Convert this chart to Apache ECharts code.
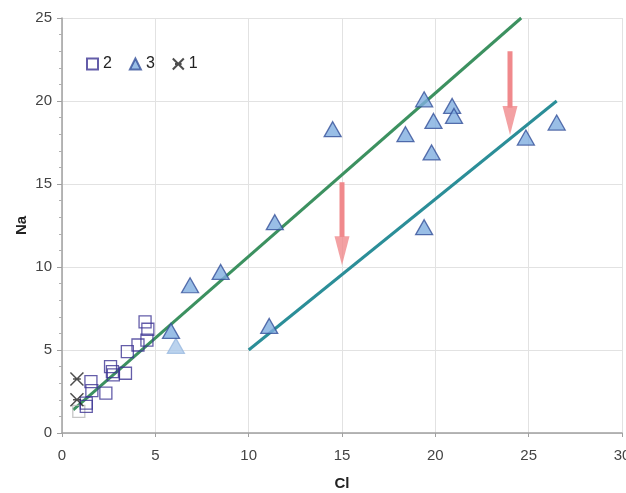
<!DOCTYPE html>
<html><head><meta charset="utf-8">
<script src="https://cdn.jsdelivr.net/npm/echarts@6/dist/echarts.min.js"></script>
<style>html,body{margin:0;padding:0;background:#fff}#c{width:626px;height:493px}</style>
</head><body><div id="c"></div>
<script>
// Series "2" (open squares): [Cl, Na]
const squares2 = [[4.45,6.7],[4.6,6.25],[4.55,5.6],[4.07,5.3],[3.5,4.9],[2.6,4.0],[2.7,3.7],[2.75,3.5],[3.4,3.6],[1.55,3.1],[1.6,2.55],[2.35,2.4],[1.3,1.8],[1.3,1.6]];
const faintSquare = [[0.9,1.3]];
// Series "3" (triangles)
const triangles3 = [[5.84,6.15],[6.86,8.9],[8.5,9.7],[11.4,12.7],[11.1,6.45],[14.5,18.3],[18.4,18.0],[19.4,20.1],[19.9,18.8],[19.8,16.9],[19.4,12.4],[20.9,19.7],[21.0,19.1],[24.85,17.8],[26.5,18.7]];
const faintTriangle = [[6.1,5.25]];
// Series "1" (stars)
const stars1 = [[0.8,3.25],[0.8,2.0]];
// Trend lines
const greenLine = [[0.6,1.4],[24.6,25]];
const tealLine = [[10,5],[26.5,20]];
// Arrows: x, top, head base, tip
const arrowX = [15, 24];
const arrowTop = [15.1, 23];
const arrowHeadBase = [11.8, 19.6];
const arrowTip = [10.1, 17.95];
// Axis ticks
const xTicks = [0,5,10,15,20,25,30];
const yTicks = [0,5,10,15,20,25];

const starPath = 'path://M0,0L10,10M10,0L0,10M2,5L8,5';
const headPath = 'path://M0,0L10,0L5,20Z';
const arrowColor = '#f0898c';
const font = 'Liberation Sans, Arial, sans-serif';

const series = [];
series.push({name:'2', type:'scatter', data:squares2, symbol:'rect', symbolSize:12, z:5,
  itemStyle:{color:'rgba(255,255,255,0)', borderColor:'#3d3494', borderWidth:1.3}});
series.push({name:'faint', type:'scatter', data:faintSquare, symbol:'rect', symbolSize:12, z:4,
  itemStyle:{color:'rgba(255,255,255,0)', borderColor:'#b8b8b8', borderWidth:1.3}});
series.push({name:'3', type:'scatter', data:triangles3, symbol:'triangle', symbolSize:[17,15], z:5,
  itemStyle:{color:'#80aee0', borderColor:'#34509a', borderWidth:1.3}});
series.push({name:'faint3', type:'scatter', data:faintTriangle, symbol:'triangle', symbolSize:[17,15], z:4,
  itemStyle:{color:'#aac8ea', borderColor:'#9ab9e0', borderWidth:1.3}});
series.push({name:'1', type:'scatter', data:stars1, symbol:starPath, symbolSize:13, z:6,
  itemStyle:{color:'rgba(0,0,0,0)', borderColor:'#222', borderWidth:1.5}});
series.push({name:'g', type:'line', data:greenLine, showSymbol:false, symbol:'none', z:3,
  lineStyle:{color:'#3c9160', width:3}});
series.push({name:'t', type:'line', data:tealLine, showSymbol:false, symbol:'none', z:3,
  lineStyle:{color:'#2b8e98', width:3}});
for (let i = 0; i < arrowX.length; i++) {
  series.push({name:'shaft'+i, type:'line', data:[[arrowX[i],arrowTop[i]],[arrowX[i],arrowHeadBase[i]]],
    showSymbol:false, symbol:'none', z:7, lineStyle:{color:arrowColor, width:5, cap:'butt'}});
  series.push({name:'head'+i, type:'scatter', data:[[arrowX[i],arrowTip[i]]], symbol:headPath,
    symbolSize:[15,29], symbolOffset:[0,'-50%'], symbolKeepAspect:false, z:8,
    itemStyle:{color:arrowColor, borderWidth:0}});
}

const chart = echarts.init(document.getElementById('c'), null, {renderer:'canvas'});
chart.setOption({
  animation:false,
  textStyle:{fontFamily:font},
  grid:{left:62, top:18, right:4, bottom:60, containLabel:false, outerBoundsMode:'none'},
  legend:{data:['2','3','1'], left:81, top:51, itemWidth:11, itemHeight:11, itemGap:17,
    textStyle:{fontSize:16, color:'#222', fontFamily:font}},
  xAxis:{type:'value', min:xTicks[0], max:xTicks[xTicks.length-1], interval:5,
    name:'Cl', nameLocation:'middle', nameGap:43, nameMoveOverlap:false,
    nameTextStyle:{fontSize:15, fontWeight:'bold', color:'#222'},
    axisLine:{show:true, lineStyle:{color:'#a0a0a0', width:1.5}},
    axisTick:{show:true, length:4, lineStyle:{color:'#a0a0a0'}},
    axisLabel:{fontSize:15, color:'#444', margin:15, hideOverlap:false, showMaxLabel:true},
    splitLine:{show:true, lineStyle:{color:'#e2e2e2'}}},
  yAxis:{type:'value', min:yTicks[0], max:yTicks[yTicks.length-1], interval:5,
    name:'Na', nameLocation:'middle', nameGap:40, nameRotate:90, nameMoveOverlap:false,
    nameTextStyle:{fontSize:15, fontWeight:'bold', color:'#222', verticalAlign:'middle'},
    axisLine:{show:true, lineStyle:{color:'#a0a0a0', width:1.5}},
    axisTick:{show:true, length:5, lineStyle:{color:'#a0a0a0'}},
    minorTick:{show:true, splitNumber:5, length:3, lineStyle:{color:'#b0b0b0'}},
    axisLabel:{fontSize:15, color:'#444', margin:10},
    splitLine:{show:true, lineStyle:{color:'#e2e2e2'}}},
  series:series
});
</script></body></html>
